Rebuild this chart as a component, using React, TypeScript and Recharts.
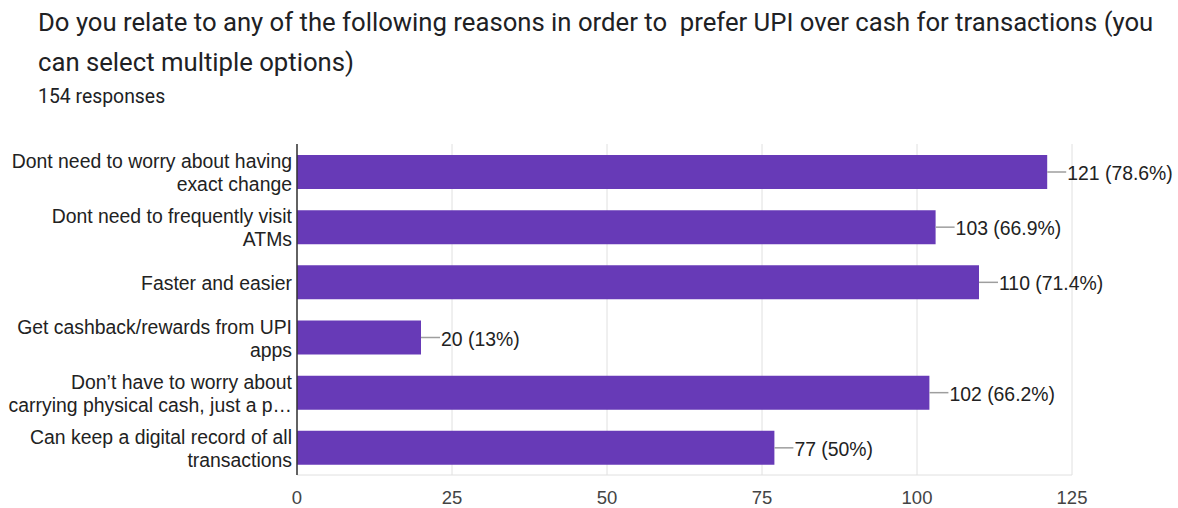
import React from "react";
import { BarChart, Bar, XAxis, YAxis, CartesianGrid, LabelList } from "recharts";

const categories = [
  ["Dont need to worry about having", "exact change"],
  ["Dont need to frequently visit", "ATMs"],
  ["Faster and easier"],
  ["Get cashback/rewards from UPI", "apps"],
  ["Don\u2019t have to worry about", "carrying physical cash, just a p\u2026"],
  ["Can keep a digital record of all", "transactions"],
];
const counts = [121, 103, 110, 20, 102, 77];
const percents = ["78.6%", "66.9%", "71.4%", "13%", "66.2%", "50%"];
const xTicks = [0, 25, 50, 75, 100, 125];

const data = categories.map((lines, i) => ({
  name: lines.join("\n"),
  value: counts[i],
  label: `${counts[i]} (${percents[i]})`,
}));

const LABEL_FONT = "'Liberation Sans', Arial, sans-serif";

const YTick = (props: any) => {
  const { x, y, payload } = props;
  const lines = String(payload.value).split("\n");
  const lh = 23;
  const start = -((lines.length - 1) * lh) / 2;
  return (
    <g>
      {lines.map((l, i) => (
        <text
          key={i}
          x={x + 6}
          y={y + start + i * lh + 1}
          textAnchor="end"
          dominantBaseline="central"
          fontSize={19.4}
          fontFamily={LABEL_FONT}
          fill="#222"
        >
          {l}
        </text>
      ))}
    </g>
  );
};

const ValueLabel = (props: any) => {
  const { x, y, width, height, index } = props;
  const ex = x + width;
  const cy = y + height / 2;
  return (
    <g>
      <line x1={ex} y1={cy} x2={ex + 19} y2={cy} stroke="#9e9e9e" strokeWidth={1.5} />
      <text
        x={ex + 20}
        y={cy + 1}
        dominantBaseline="central"
        fontSize={19.4}
        fontFamily={LABEL_FONT}
        fill="#222"
      >
        {data[index].label}
      </text>
    </g>
  );
};

export default function App() {
  return (
    <div
      style={{
        position: "absolute",
        left: 0,
        top: 0,
        width: 1178,
        height: 508,
        background: "#fff",
        overflow: "hidden",
      }}
    >
      <div
        style={{
          position: "absolute",
          left: 38,
          top: 2,
          width: 1140,
          fontFamily: "Roboto, sans-serif",
          fontSize: 25.7,
          lineHeight: "40px",
          color: "#202124",
          whiteSpace: "pre",
        }}
      >
        {"Do you relate to any of the following reasons in order to  prefer UPI over cash for transactions (you\ncan select multiple options)"}
      </div>
      <div
        style={{
          position: "absolute",
          left: 38,
          top: 85,
          fontFamily: "Roboto, sans-serif",
          fontSize: 19.4,
          lineHeight: "24px",
          color: "#202124",
        }}
      >
        154 responses
      </div>
      <BarChart
        width={1178}
        height={508}
        data={data}
        layout="vertical"
        margin={{ top: 144, right: 106, bottom: 3, left: 0 }}
        barSize={34}
      >
        <CartesianGrid horizontal={false} stroke="#e0e0e0" />
        <XAxis
          type="number"
          domain={[0, 125]}
          ticks={xTicks}
          axisLine={{ stroke: "#e0e0e0" }}
          tickLine={false}
          height={30}
          tick={{ fontSize: 18.5, fontFamily: LABEL_FONT, fill: "#444" }}
          tickMargin={10}
        />
        <XAxis
          xAxisId="top"
          type="number"
          orientation="top"
          domain={[0, 125]}
          ticks={xTicks}
          axisLine={{ stroke: "#e0e0e0" }}
          tick={false}
          tickLine={false}
          height={0}
        />
        <YAxis
          type="category"
          dataKey="name"
          width={297}
          axisLine={{ stroke: "#333", strokeWidth: 1.5 }}
          tickLine={false}
          tick={<YTick />}
          tickMargin={5}
          interval={0}
        />
        <Bar dataKey="value" fill="#673ab7" isAnimationActive={false}>
          <LabelList dataKey="label" content={<ValueLabel />} />
        </Bar>
      </BarChart>
    </div>
  );
}
